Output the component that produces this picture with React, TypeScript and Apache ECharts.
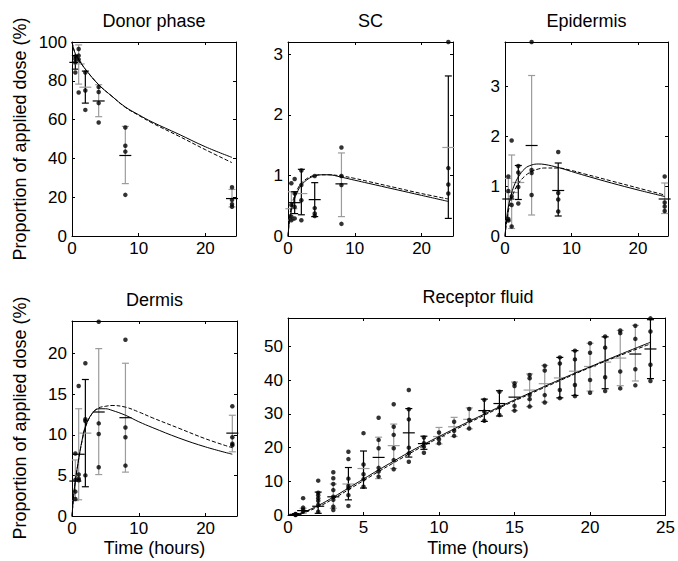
import React, { useEffect, useRef } from "react";
import * as echarts from "echarts";

const FONT = '"Liberation Sans", Arial, Helvetica, sans-serif';
const GRAY = "#9c9c9c";

// ---------- sampling times ----------
const skinTimes = [0.5, 1, 2, 4, 8, 24];
const receptorTimes = [0.5, 1, 2, 3, 4, 5, 6, 7, 8, 9, 10, 11, 12, 13, 14, 15, 16, 17, 18, 19, 20, 21, 22, 23, 24];
const fitTimesSkin = [0, 0.25, 0.5, 1, 1.5, 2, 3, 4, 5, 6, 8, 10, 12, 16, 20, 24];

// ---------- Donor phase ----------
const donorReplicates = [
  [92.6, 91.2, 89.5, 84.3],
  [96.4, 93.0, 91.0, 74.0],
  [84.3, 75.0, 65.0],
  [76.8, 74.2, 68.5, 58.5],
  [55.9, 46.5, 43.5, 21.2],
  [25.1, 18.6, 16.4, 15.1],
];
const donorMean = [89.5, 88.7, 76.7, 69.6, 41.5, 19.3];
const donorLow = [86.0, 78.3, 68.5, 61.5, 27.0, 15.0];
const donorHigh = [93.0, 98.5, 85.0, 78.0, 56.5, 24.0];
const donorBlackBarTimes = [0.5, 2];
const donorBlackMeanTimes = [0.5, 4, 8, 24];
const donorFitTimes = [0, 0.25, 0.5, 1, 2, 4, 6, 8, 10, 12, 16, 20, 24];
const donorFitSolid = [100, 96.5, 94, 91, 86, 78, 72, 66.5, 62.5, 58.8, 52.5, 46, 40.5];
const donorFitDashed = [100, 96.5, 94, 91, 86, 78, 72, 66.3, 62.2, 58.3, 51.5, 44.5, 37.8];

// ---------- SC ----------
const scReplicates = [
  [0.87, 0.51, 0.32, 0.26],
  [0.94, 0.7, 0.48, 0.29],
  [1.08, 0.84, 0.59, 0.26],
  [0.99, 0.46, 0.37, 0.33],
  [1.46, 0.99, 0.84, 0.2],
  [3.2, 1.12, 0.85, 0.7],
];
const scMean = [0.45, 0.55, 0.7, 0.6, 0.86, 1.46];
const scLow = [0.26, 0.37, 0.35, 0.32, 0.32, 0.29];
const scHigh = [0.73, 0.73, 1.1, 0.88, 1.37, 2.64];
const scBlackBarTimes = [1, 2, 4, 24];
const scBlackMeanTimes = [1, 4, 8];
const scFitSolid = [0, 0.28, 0.42, 0.62, 0.75, 0.84, 0.94, 0.99, 1.01, 1.01, 0.97, 0.92, 0.87, 0.77, 0.67, 0.57];
const scFitDashed = [0, 0.32, 0.48, 0.67, 0.79, 0.87, 0.96, 1.0, 1.01, 1.01, 0.99, 0.95, 0.9, 0.8, 0.7, 0.61];

// ---------- Epidermis ----------
const epiReplicates = [
  [1.19, 0.9, 0.34, 0.31],
  [1.91, 0.79, 0.62, 0.19],
  [1.4, 1.27, 0.98, 0.65],
  [3.88, 1.32, 1.26, 0.82],
  [1.68, 0.86, 0.73, 0.49],
  [1.19, 0.67, 0.59, 0.5],
];
const epiMean = [0.74, 0.87, 1.07, 1.81, 0.91, 0.74];
const epiLow = [0.3, 0.15, 0.73, 0.42, 0.4, 0.45];
const epiHigh = [1.15, 1.62, 1.41, 3.21, 1.46, 1.06];
const epiBlackBarTimes = [2, 8];
const epiBlackMeanTimes = [0.5, 4, 8, 24];
const epiFitSolid = [0, 0.35, 0.58, 0.86, 1.05, 1.18, 1.35, 1.42, 1.44, 1.43, 1.37, 1.29, 1.21, 1.06, 0.92, 0.79];
const epiFitDashed = [0, 0.3, 0.5, 0.76, 0.93, 1.05, 1.2, 1.29, 1.34, 1.36, 1.36, 1.31, 1.24, 1.1, 0.96, 0.82];

// ---------- Dermis ----------
const dermisReplicates = [
  [7.7, 4.45, 3.0, 2.1],
  [16.0, 5.1, 4.6, 4.4],
  [18.8, 11.9, 11.7, 5.0],
  [23.9, 11.4, 10.1, 6.0],
  [21.7, 10.9, 9.7, 6.2],
  [13.5, 9.7, 8.9, 8.7],
];
const dermisMean = [4.3, 7.6, 10.2, 12.8, 12.1, 10.2];
const dermisLow = [1.9, 2.0, 3.6, 5.1, 5.4, 7.9];
const dermisHigh = [6.9, 13.2, 16.8, 20.6, 18.8, 12.4];
const dermisBlackBarTimes = [2];
const dermisBlackMeanTimes = [0.5, 1, 4, 8, 24];
const dermisFitSolid = [0, 2.5, 4.3, 7.0, 9.3, 11.0, 12.6, 13.2, 13.2, 13.0, 12.4, 11.6, 10.9, 9.6, 8.5, 7.6];
const dermisFitDashed = [0, 2.5, 4.3, 7.0, 9.2, 10.9, 12.6, 13.3, 13.5, 13.6, 13.4, 12.8, 12.1, 10.8, 9.5, 8.4];

// ---------- Receptor fluid ----------
const receptorReplicates = [
  [0.3, 0.2, 0.1, 0.0],
  [5.0, 2.2, 1.6, 1.0],
  [10.2, 6.6, 5.9, 5.0, 4.2, 3.0, 1.0],
  [12.7, 10.9, 9.2, 7.4, 5.4, 4.5, 2.5, 1.5],
  [18.8, 16.6, 10.8, 8.6, 7.9, 5.9, 2.7],
  [24.3, 15.0, 12.1, 10.6, 8.4],
  [28.9, 22.3, 19.8, 14.0, 12.9, 11.4],
  [32.9, 26.2, 23.8, 19.8, 16.3, 13.6],
  [37.1, 31.4, 28.4, 20.0, 18.3, 15.8],
  [23.0, 21.3, 20.3, 18.5],
  [24.5, 22.5, 21.3],
  [27.7, 25.0, 23.5],
  [31.5, 28.2, 25.7],
  [34.2, 30.7, 28.0],
  [36.6, 32.0, 29.7],
  [39.1, 38.3, 32.4, 31.0],
  [41.6, 40.6, 35.6, 34.4, 32.2],
  [44.3, 42.9, 35.6, 33.4],
  [46.8, 45.0, 37.1, 34.7],
  [48.8, 46.2, 38.6, 35.3],
  [51.0, 48.2, 40.1, 36.3],
  [53.0, 49.7, 40.9, 36.8],
  [54.8, 54.0, 42.6, 37.6],
  [56.2, 52.3, 43.3, 38.5],
  [58.4, 54.5, 44.6, 39.8],
];
const receptorMean = [0.2, 1.3, 2.6, 5.4, 9.2, 13.8, 17.1, 20.6, 24.4, 21.2, 23.3, 26.2, 28.4, 31.0, 33.1, 35.0, 37.1, 39.0, 40.7, 42.7, 44.1, 45.4, 46.6, 47.8, 49.3];
const receptorLow = [0.0, 0.5, 0.5, 2.0, 4.5, 8.0, 10.8, 13.8, 17.2, 19.5, 21.1, 23.3, 25.6, 27.8, 29.4, 31.0, 32.2, 33.5, 34.8, 35.5, 36.8, 37.5, 38.4, 39.8, 40.5];
const receptorHigh = [0.4, 2.0, 6.8, 9.2, 14.1, 19.0, 23.1, 27.0, 31.6, 23.4, 26.0, 29.0, 31.8, 34.4, 36.9, 39.5, 41.9, 44.4, 46.8, 48.8, 51.0, 52.9, 54.8, 56.3, 58.0];
const receptorBlackBarTimes = [0.5, 2, 4, 5, 8, 9, 13, 14, 18, 19, 21, 24];
const receptorBlackMeanTimes = [0.5, 1, 2, 3, 6, 8, 9, 13, 14, 15, 23, 24];
const receptorFitTimes = [0, 0.5, 1, 2, 3, 4, 5, 6, 7, 8, 9, 10, 12, 14, 16, 18, 20, 22, 24];
const receptorFitSolid = [0, 0.15, 0.8, 2.8, 5.3, 8.0, 10.7, 13.4, 16.0, 18.6, 21.0, 23.3, 27.8, 32.1, 36.2, 40.2, 44.0, 47.7, 51.3];
const receptorFitDashed = [0, 0.1, 0.6, 2.4, 4.8, 7.5, 10.2, 12.9, 15.5, 18.1, 20.6, 22.9, 27.4, 31.8, 35.9, 39.9, 43.8, 47.4, 50.8];

// ---------- helpers ----------
const pairs = (xs: number[], ys: number[]) => xs.map((x, i) => [x, ys[i]]);
const dots = (times: number[], reps: number[][]) =>
  times.flatMap((t, i) => reps[i].map((v) => [t, v]));
const bars = (
  times: number[], mean: number[], low: number[], high: number[],
  blackBar: number[], blackMean: number[]
) =>
  times.map((t, i) => [t, mean[i], low[i], high[i], blackBar.includes(t) ? 1 : 0, blackMean.includes(t) ? 1 : 0]);

const panels = [
  {
    title: "Donor phase", left: 72, top: 42, width: 164, height: 194,
    xMax: 24.6, xInt: 10, yMax: 100, yInt: 20,
    solid: pairs(donorFitTimes, donorFitSolid), dashed: pairs(donorFitTimes, donorFitDashed),
    dots: dots(skinTimes, donorReplicates),
    bars: bars(skinTimes, donorMean, donorLow, donorHigh, donorBlackBarTimes, donorBlackMeanTimes),
  },
  {
    title: "SC", left: 288, top: 42, width: 165, height: 194,
    xMax: 24.7, xInt: 10, yMax: 3.2, yInt: 1,
    solid: pairs(fitTimesSkin, scFitSolid), dashed: pairs(fitTimesSkin, scFitDashed),
    dots: dots(skinTimes, scReplicates),
    bars: bars(skinTimes, scMean, scLow, scHigh, scBlackBarTimes, scBlackMeanTimes),
  },
  {
    title: "Epidermis", left: 505, top: 42, width: 163, height: 194,
    xMax: 24.5, xInt: 10, yMax: 3.88, yInt: 1,
    solid: pairs(fitTimesSkin, epiFitSolid), dashed: pairs(fitTimesSkin, epiFitDashed),
    dots: dots(skinTimes, epiReplicates),
    bars: bars(skinTimes, epiMean, epiLow, epiHigh, epiBlackBarTimes, epiBlackMeanTimes),
  },
  {
    title: "Dermis", left: 72, top: 321, width: 165, height: 195,
    xMax: 24.7, xInt: 10, yMax: 24, yInt: 5,
    solid: pairs(fitTimesSkin, dermisFitSolid), dashed: pairs(fitTimesSkin, dermisFitDashed),
    dots: dots(skinTimes, dermisReplicates),
    bars: bars(skinTimes, dermisMean, dermisLow, dermisHigh, dermisBlackBarTimes, dermisBlackMeanTimes),
  },
  {
    title: "Receptor fluid", left: 288, top: 318, width: 380, height: 197,
    xMax: 25, xInt: 5, yMax: 58.5, yInt: 10,
    solid: pairs(receptorFitTimes, receptorFitSolid), dashed: pairs(receptorFitTimes, receptorFitDashed),
    dots: dots(receptorTimes, receptorReplicates),
    bars: bars(receptorTimes, receptorMean, receptorLow, receptorHigh, receptorBlackBarTimes, receptorBlackMeanTimes),
  },
];

const isMult = (v: number, step: number) => Math.abs(v / step - Math.round(v / step)) < 1e-6;

function makeAxis(kind: "x" | "y", gi: number, p: any, mirror: boolean) {
  const max = kind === "x" ? p.xMax : p.yMax;
  const step = kind === "x" ? p.xInt : p.yInt;
  return {
    type: "value",
    gridIndex: gi,
    min: 0,
    max,
    interval: step,
    position: kind === "x" ? (mirror ? "top" : "bottom") : mirror ? "right" : "left",
    axisLine: { show: true, onZero: false, lineStyle: { color: "#000", width: 1 } },
    axisTick: { show: true, inside: true, length: 3, lineStyle: { color: "#000", width: 1 } },
    axisLabel: {
      show: !mirror,
      margin: kind === "x" ? 4 : 5,
      color: "#000",
      fontSize: 17,
      fontFamily: FONT,
      formatter: (v: number) => (isMult(v, step) ? String(Math.round(v * 1000) / 1000) : ""),
    },
    splitLine: { show: false },
  };
}

function renderBar(_params: any, api: any) {
  const t = api.value(0);
  const m = api.value(1);
  const lo = api.value(2);
  const hi = api.value(3);
  const barColor = api.value(4) ? "#000" : GRAY;
  const meanColor = api.value(5) ? "#000" : GRAY;
  const a = api.coord([t, lo]);
  const b = api.coord([t, hi]);
  const c = api.coord([t, m]);
  const cw = 3.5;
  const mw = 6;
  const st = (color: string) => ({ stroke: color, lineWidth: 1.2 });
  return {
    type: "group",
    children: [
      { type: "line", shape: { x1: a[0], y1: a[1], x2: b[0], y2: b[1] }, style: st(barColor) },
      { type: "line", shape: { x1: a[0] - cw, y1: a[1], x2: a[0] + cw, y2: a[1] }, style: st(barColor) },
      { type: "line", shape: { x1: b[0] - cw, y1: b[1], x2: b[0] + cw, y2: b[1] }, style: st(barColor) },
      { type: "line", shape: { x1: c[0] - mw, y1: c[1], x2: c[0] + mw, y2: c[1] }, style: st(meanColor) },
    ],
  };
}

function textEl(text: string, x: number, y: number, rotation = 0) {
  return {
    type: "text",
    x,
    y,
    rotation,
    style: {
      text,
      fill: "#000",
      font: `18px ${FONT}`,
      fontSize: 18,
      fontFamily: FONT,
      align: "center",
      verticalAlign: "middle",
      textAlign: "center",
      textVerticalAlign: "middle",
    },
  };
}

export default function App() {
  const ref = useRef<HTMLDivElement>(null);
  useEffect(() => {
    if (!ref.current) return;
    const chart = echarts.init(ref.current, undefined, { renderer: "svg" });
    const grid = panels.map((p) => ({ left: p.left, top: p.top, width: p.width, height: p.height, containLabel: false }));
    const xAxis: any[] = [];
    const yAxis: any[] = [];
    const series: any[] = [];
    panels.forEach((p, i) => {
      xAxis.push(makeAxis("x", i, p, false), makeAxis("x", i, p, true));
      yAxis.push(makeAxis("y", i, p, false), makeAxis("y", i, p, true));
      const ax = { xAxisIndex: 2 * i, yAxisIndex: 2 * i };
      series.push(
        {
          type: "custom", ...ax, data: p.bars, clip: false, z: 2,
          encode: { x: 0, y: [1, 2, 3] }, renderItem: renderBar,
        },
        {
          type: "scatter", ...ax, data: p.dots, symbol: "circle", symbolSize: 4.5, clip: false, z: 3,
          itemStyle: { color: "#000" },
        },
        {
          type: "line", ...ax, data: p.dashed, showSymbol: false, symbol: "none", smooth: 0.4, z: 4,
          lineStyle: { color: "#000", width: 1, type: [4, 2] },
        },
        {
          type: "line", ...ax, data: p.solid, showSymbol: false, symbol: "none", smooth: 0.4, z: 5,
          lineStyle: { color: "#000", width: 1 },
        }
      );
    });
    const graphic: any[] = panels.map((p) => textEl(p.title, p.left + p.width / 2, p.top - 21));
    graphic.push(textEl("Proportion of applied dose (%)", 20, 139, Math.PI / 2));
    graphic.push(textEl("Proportion of applied dose (%)", 20, 418, Math.PI / 2));
    graphic.push(textEl("Time (hours)", 72 + 165 / 2, 548));
    graphic.push(textEl("Time (hours)", 288 + 380 / 2, 548));

    chart.setOption({
      animation: false,
      backgroundColor: "#fff",
      grid,
      xAxis,
      yAxis,
      series,
      graphic,
    });
    return () => chart.dispose();
  }, []);
  return (
    <div
      ref={ref}
      style={{ position: "absolute", left: 0, top: 0, width: 678, height: 561, background: "#fff" }}
    />
  );
}
